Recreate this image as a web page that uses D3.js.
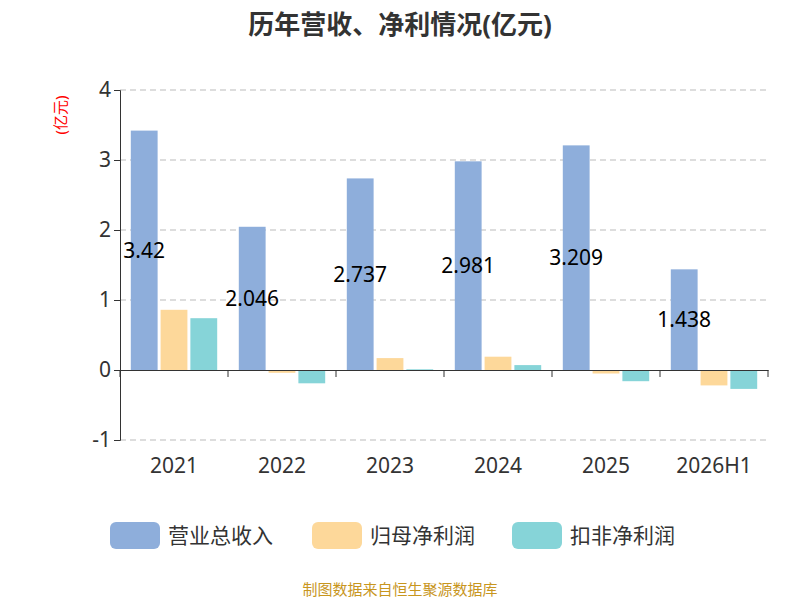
<!DOCTYPE html>
<html><head><meta charset="utf-8">
<script src="https://cdn.jsdelivr.net/npm/d3@7"></script>
<style>body{margin:0;background:#fff}text{font-family:"Noto Sans","Noto Sans CJK SC",sans-serif}</style>
</head><body><svg id="c" width="800" height="600"></svg>
<script>
const categories=["2021","2022","2023","2024","2025","2026H1"];
const revenue=[3.42,2.046,2.737,2.981,3.209,1.438];
const netProfit=[0.86,-0.04,0.17,0.19,-0.05,-0.22];
const deductProfit=[0.74,-0.19,0.01,0.07,-0.16,-0.27];
const seriesNames=["营业总收入","归母净利润","扣非净利润"];
const colors=["#8eaedb","#fdd89a","#86d4d8"];
const yTicks=[-1,0,1,2,3,4];

const svg=d3.select("#c");
const L=120,R=768,T=90,B=440;
const x=d3.scaleBand().domain(categories).range([L,R]);
const y=d3.scaleLinear().domain([-1,4]).range([B,T]);
const xs=d3.scaleBand().domain([0,1,2]).range([0.1*x.bandwidth(),0.9*x.bandwidth()]).paddingInner(0.1);

svg.append("text").attr("x",400).attr("y",34).attr("text-anchor","middle").attr("font-size",26).attr("font-weight","bold").attr("fill","#333").text("历年营收、净利情况(亿元)");
svg.append("text").attr("transform","translate(66,115) rotate(-90)").attr("text-anchor","middle").attr("font-size",15).attr("fill","red").text("(亿元)");

yTicks.forEach(t=>{ if(t!==0) svg.append("line").attr("x1",L).attr("x2",R).attr("y1",y(t)).attr("y2",y(t)).attr("stroke","#bbb").attr("stroke-dasharray","6,4");});
const ya=svg.append("g").attr("transform",`translate(${L},0)`).call(d3.axisLeft(y).tickValues(yTicks).tickSize(6).tickFormat(d=>String(d)));
ya.selectAll("text").attr("font-size",21).attr("fill","#333");
ya.selectAll("line,path").attr("stroke","#333");

const data=[revenue,netProfit,deductProfit];
categories.forEach((c,i)=>{
  data.forEach((s,j)=>{
    const v=s[i];
    svg.append("rect").attr("x",x(c)+xs(j)).attr("width",xs.bandwidth()).attr("y",y(Math.max(0,v))).attr("height",Math.abs(y(v)-y(0))).attr("fill",colors[j]);
  });
  svg.append("text").attr("x",x(c)+xs(0)+xs.bandwidth()/2).attr("y",(y(revenue[i])+y(0))/2).attr("dy","0.35em").attr("text-anchor","middle").attr("font-size",21).attr("fill","#000").text(revenue[i]);
});

const xa=svg.append("g").attr("transform",`translate(0,${y(0)})`).call(d3.axisBottom(x).tickSize(0).tickFormat(""));
xa.selectAll("path").attr("stroke","#333");
categories.concat([null]).forEach((c,i)=>{const px=L+i*x.bandwidth();svg.append("line").attr("x1",px).attr("x2",px).attr("y1",y(0)).attr("y2",y(0)+7).attr("stroke","#333");});
categories.forEach(c=>svg.append("text").attr("x",x(c)+x.bandwidth()/2).attr("y",473).attr("text-anchor","middle").attr("font-size",21).attr("fill","#333").text(c));

const lx=[110,312,512];
seriesNames.forEach((n,j)=>{
  svg.append("rect").attr("x",lx[j]).attr("y",522).attr("width",50).attr("height",27).attr("rx",6).attr("fill",colors[j]);
  svg.append("text").attr("x",lx[j]+58).attr("y",543).attr("font-size",21).attr("fill","#333").text(n);
});
svg.append("text").attr("x",400).attr("y",595).attr("text-anchor","middle").attr("font-size",15).attr("fill","#c8961e").text("制图数据来自恒生聚源数据库");
</script></body></html>
